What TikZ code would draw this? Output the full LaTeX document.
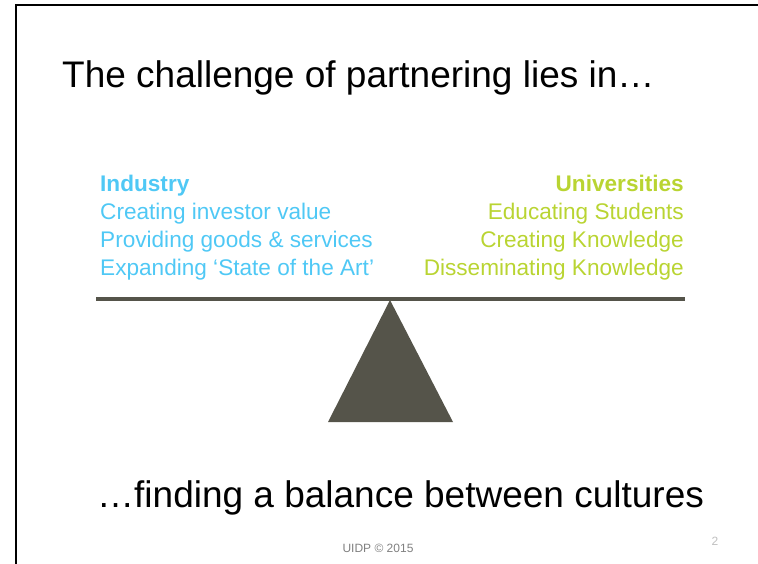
\documentclass[tikz,border=0pt]{standalone}
\usepackage{fontspec}
\setmainfont{Liberation Sans}
\definecolor{indblue}{RGB}{79,200,245}
\definecolor{unigreen}{RGB}{185,212,50}
\definecolor{beamgray}{RGB}{85,84,74}
\tikzset{
    slidetext/.style={inner sep=0pt, font=\fontsize{37}{44}\selectfont},
    indtext/.style={inner sep=0pt, anchor=base west, text=indblue, font=\fontsize{22.6}{27}\selectfont},
    unitext/.style={inner sep=0pt, anchor=base east, text=unigreen, font=\fontsize{22.6}{27}\selectfont},
}
\begin{document}
\begin{tikzpicture}[x=1pt, y=-1pt]
\useasboundingbox (0,0) rectangle (758,564);
% slide frame
\draw[line width=2pt](16,570)--(16,5)--(765,5);
\node[slidetext, anchor=base west] (title) at (62,88){The challenge of partnering lies in…};
% the two sides
\node[indtext] (ind) at (100,192){\bfseries Industry};
\node[unitext] (uni) at (684,192){\bfseries Universities};
\foreach \i/\itext in {1/Creating investor value,2/Providing goods \& services,3/Expanding ‘State of the Art’}
{
    \node[indtext] (ind\i) at (100,{192+27.7*\i}){\itext};
}
\foreach \i/\utext in {1/Educating Students,2/Creating Knowledge,3/Disseminating Knowledge}
{
    \node[unitext] (uni\i) at (684,{192+27.7*\i}){\utext};
}
% balance
\coordinate (beamL) at (96,299);
\coordinate (beamR) at (685,299);
\coordinate (apex) at (390,300);
\draw[beamgray, line width=3.3pt](beamL)--(beamR);
\fill[beamgray](apex)--(453,422)--(328,422)--cycle;
\node[slidetext, anchor=base west] (bottom) at (97,507){…finding a balance between cultures};
\node[inner sep=0pt, text=gray, font=\fontsize{12}{14}\selectfont] (footer) at (378,548){UIDP © 2015};
\node[inner sep=0pt, text=black!25, font=\fontsize{12}{14}\selectfont] (page) at (715,541){2};
\end{tikzpicture}
\end{document}
